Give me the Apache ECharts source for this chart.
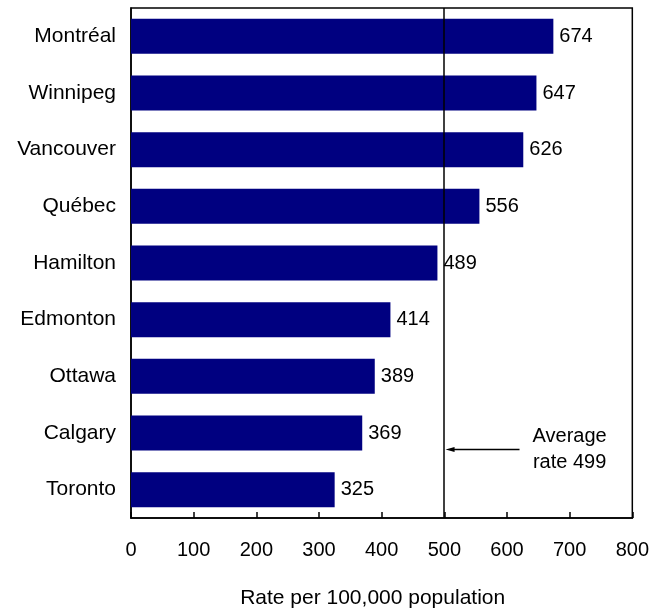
<!DOCTYPE html>
<html>
<head>
<meta charset="utf-8">
<script src="https://cdn.jsdelivr.net/npm/echarts@6/dist/echarts.min.js"></script>
<style>
  html, body { margin: 0; padding: 0; background: #fff; }
  #container { width: 652px; height: 614px; }
</style>
</head>
<body>
<div id="container"></div>
<script>
var cities = ['Montréal', 'Winnipeg', 'Vancouver', 'Québec', 'Hamilton', 'Edmonton', 'Ottawa', 'Calgary', 'Toronto'];
var rates = [674, 647, 626, 556, 489, 414, 389, 369, 325];
var averageRate = 499;
var averageLabel = ['Average', 'rate 499'];

var chart = echarts.init(document.getElementById('container'));
var font = 'Liberation Sans, Arial, sans-serif';

var option = {
    animation: false,
    textStyle: { fontFamily: font },
    grid: {
        left: 131,
        right: 19,
        top: 8,
        bottom: 94,
        show: true,
        borderColor: '#000',
        borderWidth: 1.5
    },
    xAxis: {
        type: 'value',
        min: 0,
        max: 800,
        interval: 100,
        name: 'Rate per 100,000 population',
        nameLocation: 'middle',
        nameGap: 70,
        nameTextStyle: { color: '#000', fontSize: 21, fontFamily: font, padding: [0, 18, 0, 0] },
        splitLine: { show: false },
        axisLine: { show: true, lineStyle: { color: '#000', width: 1.5 } },
        axisTick: { show: true, inside: true, length: 6, lineStyle: { color: '#000', width: 1.5 } },
        axisLabel: { color: '#000', fontSize: 20, margin: 22, fontFamily: font }
    },
    yAxis: {
        type: 'category',
        data: cities,
        inverse: true,
        axisLine: { show: true, lineStyle: { color: '#000', width: 1.5 } },
        axisTick: { show: false },
        axisLabel: { color: '#000', fontSize: 21, margin: 15, fontFamily: font }
    },
    series: [{
        type: 'bar',
        data: rates,
        barWidth: 35,
        itemStyle: { color: '#000080' },
        label: {
            show: true,
            position: 'right',
            distance: 6,
            color: '#000',
            fontSize: 20,
            fontFamily: font
        },
        markLine: {
            silent: true,
            symbol: 'none',
            label: { show: false },
            lineStyle: { color: '#000', type: 'solid', width: 1.5 },
            data: [{ xAxis: averageRate }]
        }
    }]
};
chart.setOption(option);

// arrow + note next to the average line, a bit below the Calgary bar
var pCal = chart.convertToPixel({ gridIndex: 0 }, [620, 'Calgary']);
var pTor = chart.convertToPixel({ gridIndex: 0 }, [620, 'Toronto']);
var ay = pCal[1] + 0.29 * (pTor[1] - pCal[1]);
var ax1 = pCal[0];
var ax2 = chart.convertToPixel({ gridIndex: 0 }, [averageRate + 3, 'Calgary'])[0];
var tx = chart.convertToPixel({ gridIndex: 0 }, [700, 'Calgary'])[0];
chart.setOption({
    graphic: [{
        type: 'line',
        shape: { x1: ax1, y1: ay, x2: ax2 + 6, y2: ay },
        style: { stroke: '#000', lineWidth: 1.5 }
    }, {
        type: 'polygon',
        shape: { points: [[ax2, ay], [ax2 + 9, ay - 2.5], [ax2 + 9, ay + 2.5]] },
        style: { fill: '#000' }
    }, {
        type: 'text',
        x: tx,
        y: ay,
        style: {
            text: averageLabel.join('\n'),
            fill: '#000',
            font: '20px ' + font,
            align: 'center',
            verticalAlign: 'middle',
            lineHeight: 26
        }
    }]
});

window.addEventListener('resize', function () {
    chart.resize();
});
</script>
</body>
</html>
